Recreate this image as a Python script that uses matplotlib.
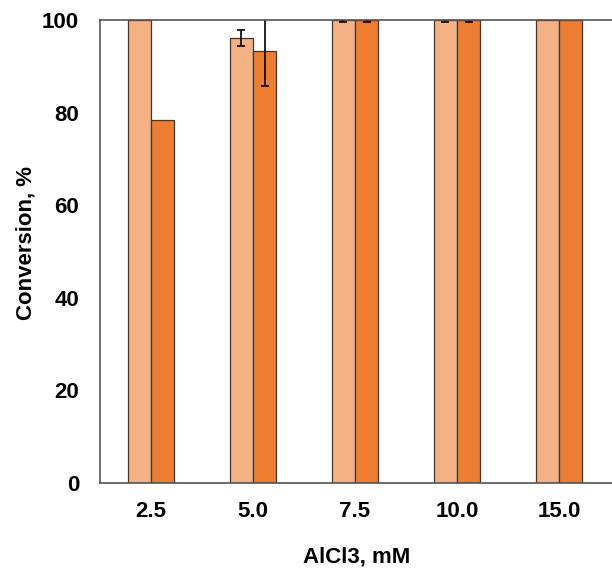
import matplotlib
matplotlib.use("Agg")
import matplotlib.pyplot as plt
import numpy as np

plt.rcParams['font.family'] = ['Liberation Sans', 'DejaVu Sans']
plt.rcParams['font.weight'] = 'bold'

categories = ['2.5', '5.0', '7.5', '10.0', '15.0']
light_vals = [100.0, 96.1, 100.0, 100.0, 100.0]
light_err = [np.nan, 1.7, 0.4, 0.4, np.nan]
dark_vals = [78.4, 93.3, 100.0, 100.0, 100.0]
dark_err = [np.nan, 7.5, 0.4, 0.4, np.nan]

light_color = '#F4B183'
dark_color = '#ED7D31'

fig = plt.figure(figsize=(6.12, 5.72), dpi=100)
ax = fig.add_axes([100 / 612, 89 / 572, 512 / 612, 463 / 572])

x = np.arange(len(categories))
w = 0.23
ax.bar(x - w / 2, light_vals, w, color=light_color, edgecolor='#3a3a3a', linewidth=0.9,
       yerr=light_err, error_kw=dict(ecolor='black', elinewidth=1.2, capsize=3, capthick=1.2))
ax.bar(x + w / 2, dark_vals, w, color=dark_color, edgecolor='#3a3a3a', linewidth=0.9,
       yerr=dark_err, error_kw=dict(ecolor='black', elinewidth=1.2, capsize=3, capthick=1.2))

ax.set_xlim(-0.5, 4.52)
ax.set_ylim(0, 100)
ax.set_yticks([0, 20, 40, 60, 80, 100])
ax.set_xticks(x)
ax.set_xticklabels(categories)
ax.tick_params(length=0, labelsize=16)
ax.tick_params(axis='y', pad=15)
ax.tick_params(axis='x', pad=13)
for lab in ax.get_xticklabels() + ax.get_yticklabels():
    lab.set_fontweight('bold')

for s in ['top', 'left', 'bottom']:
    ax.spines[s].set_color('#555555')
    ax.spines[s].set_linewidth(1.2)
ax.spines['right'].set_visible(False)

ax.set_xlabel('AlCl3, mM', fontsize=16, fontweight='bold')
ax.set_ylabel('Conversion, %', fontsize=16, fontweight='bold')
ax.xaxis.set_label_coords((357 - 100) / 512, -(557 - 483) / 463)
ax.yaxis.set_label_coords(-(100 - 26) / 512, (483 - 243) / 463)
ax.xaxis.label.set_va('center')
ax.yaxis.label.set_va('center')

fig.savefig('out.png', dpi=100)
